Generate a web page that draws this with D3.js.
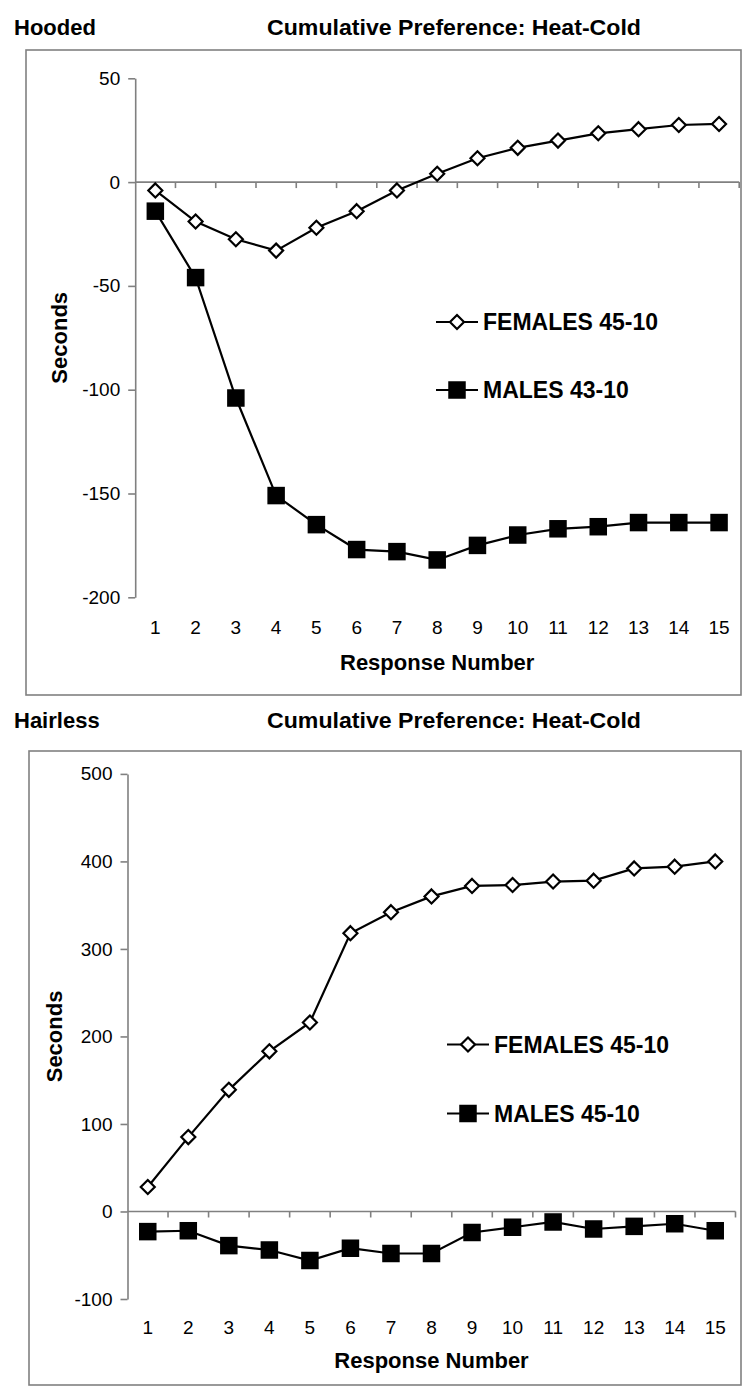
<!DOCTYPE html>
<html>
<head>
<meta charset="utf-8">
<script src="https://cdn.jsdelivr.net/npm/d3@7"></script>
<style>
  html, body { margin: 0; padding: 0; background: #fff; }
  svg { display: block; font-family: "Liberation Sans", Arial, sans-serif; }
</style>
</head>
<body>
<svg id="chart" width="750" height="1398"></svg>
<script>
// ---- data ----
const responses = [1,2,3,4,5,6,7,8,9,10,11,12,13,14,15];

const hoodedFemales = [-4, -19, -27.5, -33, -22, -14, -4, 4, 11.5, 16.5, 20, 23.5, 25.5, 27.5, 28];
const hoodedMales   = [-14, -46, -104, -151, -165, -177, -178, -182, -175, -170, -167, -166, -164, -164, -164];

const hairlessFemales = [28, 85, 139, 183, 216, 318, 342, 360, 372, 373, 377, 378, 392, 394, 400];
const hairlessMales   = [-23, -22, -39, -44, -56, -42, -48, -48, -24, -18, -12, -20, -17, -14, -22];

const hoodedTicks = [-200, -150, -100, -50, 0, 50];
const hairlessTicks = [-100, 0, 100, 200, 300, 400, 500];

const panels = [
  {
    group: "Hooded", title: "Cumulative Preference: Heat-Cold",
    titleY: 35, box: [26, 50, 741, 695],
    yDomain: [-200, 50], yRange: [597.3, 78.3], yTicks: hoodedTicks,
    xRange: [135.2, 739.2], xLabelY: 627, xTitleY: 670,
    seriesNames: ["FEMALES 45-10", "MALES 43-10"],
    females: hoodedFemales, males: hoodedMales,
    legendX: 436, legendY: [322, 390], ylabX: 66.5
  },
  {
    group: "Hairless", title: "Cumulative Preference: Heat-Cold",
    titleY: 728, box: [29, 751, 741, 1385],
    yDomain: [-100, 500], yRange: [1299, 773.9], yTicks: hairlessTicks,
    xRange: [127.5, 735.5], xLabelY: 1327, xTitleY: 1368,
    seriesNames: ["FEMALES 45-10", "MALES 45-10"],
    females: hairlessFemales, males: hairlessMales,
    legendX: 447, legendY: [1044.5, 1113.5], ylabX: 62
  }
];

const svg = d3.select("#chart");
const axisColor = "#808080";

function diamond(g, cx, cy) {
  const r = 7;
  g.append("path")
    .attr("d", `M${cx},${cy - r}L${cx + r},${cy}L${cx},${cy + r}L${cx - r},${cy}Z`)
    .attr("fill", "#fff").attr("stroke", "#000").attr("stroke-width", 2.2);
}
function square(g, cx, cy) {
  const s = 17.5;
  g.append("rect").attr("x", cx - s / 2).attr("y", cy - s / 2)
    .attr("width", s).attr("height", s).attr("fill", "#000");
}

panels.forEach(p => {
  const g = svg.append("g");

  // headers
  g.append("text").attr("x", 14).attr("y", p.titleY)
    .attr("font-size", 22).attr("font-weight", "bold")
    .text(p.group);
  g.append("text").attr("x", 267).attr("y", p.titleY)
    .attr("font-size", 22).attr("font-weight", "bold")
    .attr("textLength", 374).attr("lengthAdjust", "spacingAndGlyphs")
    .text(p.title);

  // frame
  const [bx0, by0, bx1, by1] = p.box;
  g.append("rect").attr("x", bx0).attr("y", by0)
    .attr("width", bx1 - bx0).attr("height", by1 - by0)
    .attr("fill", "none").attr("stroke", axisColor).attr("stroke-width", 1.6);

  const x = d3.scaleBand().domain(responses).range(p.xRange).paddingInner(0).paddingOuter(0);
  const y = d3.scaleLinear().domain(p.yDomain).range(p.yRange);
  const cx = d => x(d) + x.bandwidth() / 2;

  // y axis
  const yAxis = g.append("g").attr("transform", `translate(${p.xRange[0]},0)`)
    .call(d3.axisLeft(y).tickValues(p.yTicks).tickSize(7).tickSizeOuter(0).tickPadding(8).tickFormat(d3.format("d")));
  yAxis.select(".domain").attr("stroke", axisColor).attr("stroke-width", 1.6);
  yAxis.selectAll(".tick line").attr("stroke", axisColor).attr("stroke-width", 1.6);
  yAxis.selectAll(".tick text").attr("font-size", 19).attr("fill", "#000")
    .attr("font-family", "'Liberation Sans', Arial, sans-serif")
    .text(d => d < 0 ? "-" + Math.abs(d) : d);

  // x axis line at zero with boundary ticks
  const y0 = y(0);
  g.append("line").attr("x1", p.xRange[0]).attr("x2", p.xRange[1])
    .attr("y1", y0).attr("y2", y0).attr("stroke", axisColor).attr("stroke-width", 1.6);
  const bounds = responses.map(d => x(d)).concat([x(responses[responses.length - 1]) + x.bandwidth()]);
  g.selectAll(null).data(bounds.slice(1)).enter().append("line")
    .attr("x1", d => d).attr("x2", d => d).attr("y1", y0).attr("y2", y0 + 6)
    .attr("stroke", axisColor).attr("stroke-width", 1.6);

  // x tick labels (low position)
  g.selectAll(null).data(responses).enter().append("text")
    .attr("x", d => cx(d)).attr("y", p.xLabelY).attr("dy", "0.35em")
    .attr("text-anchor", "middle").attr("font-size", 19)
    .text(d => d);

  // axis titles
  g.append("text").attr("x", (p.xRange[0] + p.xRange[1]) / 2).attr("y", p.xTitleY)
    .attr("text-anchor", "middle").attr("font-size", 22).attr("font-weight", "bold")
    .text("Response Number");
  const ymid = (p.yRange[0] + p.yRange[1]) / 2;
  g.append("text").attr("transform", `translate(${p.ylabX},${ymid}) rotate(-90)`)
    .attr("text-anchor", "middle").attr("font-size", 22).attr("font-weight", "bold")
    .text("Seconds");

  // lines
  const line = d3.line().x((v, i) => cx(responses[i])).y(v => y(v));
  g.append("path").datum(p.males).attr("d", line)
    .attr("fill", "none").attr("stroke", "#000").attr("stroke-width", 2.2);
  g.append("path").datum(p.females).attr("d", line)
    .attr("fill", "none").attr("stroke", "#000").attr("stroke-width", 2.2);

  p.males.forEach((v, i) => square(g, cx(responses[i]), y(v)));
  p.females.forEach((v, i) => diamond(g, cx(responses[i]), y(v)));

  // legend
  const lx = p.legendX;
  p.legendY.forEach((ly, k) => {
    g.append("line").attr("x1", lx).attr("x2", lx + 42).attr("y1", ly).attr("y2", ly)
      .attr("stroke", "#000").attr("stroke-width", 2.2);
    if (k === 0) diamond(g, lx + 21, ly); else square(g, lx + 21, ly);
    g.append("text").attr("x", lx + 47).attr("y", ly).attr("dy", "0.36em")
      .attr("font-size", 23).attr("font-weight", "bold")
      .text(p.seriesNames[k]);
  });
});
</script>
</body>
</html>
